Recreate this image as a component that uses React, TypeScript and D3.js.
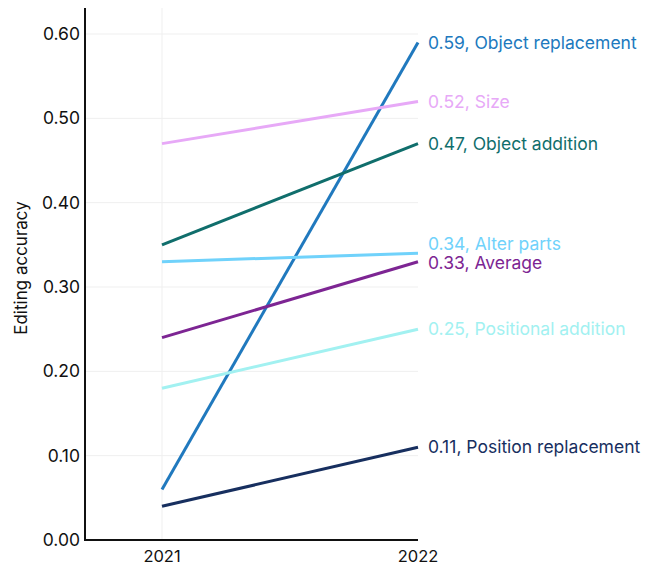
import React from "react";
import * as d3 from "d3";

const years = ["2021", "2022"];
const seriesNames = [
  "Object replacement",
  "Size",
  "Object addition",
  "Alter parts",
  "Average",
  "Positional addition",
  "Position replacement",
];
const values2021 = [0.06, 0.47, 0.35, 0.33, 0.24, 0.18, 0.04];
const values2022 = [0.59, 0.52, 0.47, 0.34, 0.33, 0.25, 0.11];
const colors = ["#2079be", "#e7a9f7", "#106e6c", "#70d2fb", "#7d2593", "#a2f1f1", "#172f5f"];
const yTicks = [0, 0.1, 0.2, 0.3, 0.4, 0.5, 0.6];

const W = 649;
const H = 565;
const FONT = "Inter, 'Noto Sans', sans-serif";

export default function App() {
  const left = 85;
  const bottom = 540;
  const x = d3.scalePoint<string>().domain(years).range([162, 418]);
  const y = d3.scaleLinear().domain([0, 0.6]).range([bottom, 34]);
  const line = d3
    .line<[string, number]>()
    .x((d) => x(d[0]) as number)
    .y((d) => y(d[1]));

  const labelY = values2022.map((v) => y(v));
  const order = labelY.map((_, i) => i).sort((a, b) => labelY[b] - labelY[a]);
  for (let k = 1; k < order.length; k++) {
    const lower = order[k - 1];
    const cur = order[k];
    if (labelY[lower] - labelY[cur] < 18) {
      labelY[cur] = labelY[lower] - 18;
      labelY[lower] += 1;
    }
  }

  return (
    <svg width={W} height={H} style={{ position: "absolute", left: 0, top: 0, background: "#fff" }}>
      {yTicks.slice(1).map((t) => (
        <line key={t} x1={left} x2={418} y1={y(t)} y2={y(t)} stroke="#efefef" strokeWidth={1} />
      ))}
      <line x1={x("2021")} x2={x("2021")} y1={8} y2={bottom} stroke="#efefef" strokeWidth={1} />
      <line x1={left} x2={left} y1={8} y2={bottom + 1} stroke="#111" strokeWidth={2} />
      <line x1={left - 1} x2={418} y1={bottom} y2={bottom} stroke="#111" strokeWidth={2} />
      {yTicks.map((t) => (
        <text key={t} x={80} y={y(t)} dy="0.35em" textAnchor="end" fontSize={17.5} fontFamily={FONT} fill="#111">
          {t.toFixed(2)}
        </text>
      ))}
      {years.map((yr) => (
        <text key={yr} x={x(yr)} y={562} textAnchor="middle" fontSize={16.5} fontFamily={FONT} fill="#111">
          {yr}
        </text>
      ))}
      <text
        transform={`translate(27,268) rotate(-90)`}
        textAnchor="middle"
        fontSize={17}
        fontFamily={FONT}
        fill="#111"
      >
        Editing accuracy
      </text>
      {seriesNames.map((name, i) => (
        <path
          key={name}
          d={line([
            [years[0], values2021[i]],
            [years[1], values2022[i]],
          ]) as string}
          fill="none"
          stroke={colors[i]}
          strokeWidth={3}
        />
      ))}
      {seriesNames.map((name, i) => (
        <text key={name} x={428} y={labelY[i]} dy="0.35em" fontSize={17.5} fontFamily={FONT} fill={colors[i]}>
          {values2022[i].toFixed(2)}, {name}
        </text>
      ))}
    </svg>
  );
}
